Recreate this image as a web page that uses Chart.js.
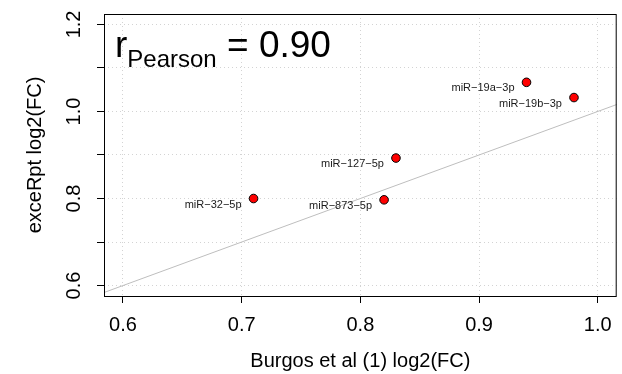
<!DOCTYPE html>
<html>
<head>
<meta charset="utf-8">
<script src="https://cdn.jsdelivr.net/npm/chart.js@4/dist/chart.umd.min.js"></script>
<style>
  html, body { margin: 0; padding: 0; background: #fff; }
  canvas { display: block; }
</style>
</head>
<body>
<canvas id="chart" width="622" height="374"></canvas>
<script>
const mirnas = ["miR−32−5p", "miR−873−5p", "miR−127−5p", "miR−19a−3p", "miR−19b−3p"];
const burgosFC = [0.71, 0.82, 0.83, 0.94, 0.98];
const exceRptFC = [0.800, 0.797, 0.893, 1.067, 1.032];

const xTicks = [0.6, 0.7, 0.8, 0.9, 1.0];
const yTicks = [0.6, 0.7, 0.8, 0.9, 1.0, 1.1, 1.2];
const yLabelTicks = [0.6, 0.8, 1.0, 1.2];
const xLim = [0.584, 1.016];
const yLim = [0.576, 1.224];
const pearson = "0.90";

const FONT = '"Liberation Sans", Arial, Helvetica, sans-serif';

// identity line y = x, clipped to the plot area by the chart
const refLine = [{ x: 0.5, y: 0.5 }, { x: 1.1, y: 1.1 }];

const fixTicks = (vals) => (scale) => {
  scale.ticks = vals.map((v) => ({ value: v }));
};

const rPlot = {
  id: "rPlot",
  afterDatasetsDraw(chart) {
    const { ctx, chartArea: a } = chart;
    ctx.save();
    // point labels
    const meta = chart.getDatasetMeta(1);
    ctx.font = "11px " + FONT;
    ctx.fillStyle = "#1a1a1a";
    ctx.textAlign = "right";
    ctx.textBaseline = "middle";
    meta.data.forEach((pt, i) => {
      ctx.fillText(mirnas[i], pt.x - 12, pt.y + 6);
    });

    // box
    ctx.strokeStyle = "#000";
    ctx.lineWidth = 1;
    ctx.strokeRect(a.left + 0.5, a.top + 0.5, a.right - a.left - 1, a.bottom - a.top);

    // r_Pearson annotation
    ctx.fillStyle = "#000";
    ctx.textAlign = "left";
    ctx.textBaseline = "alphabetic";
    let x = a.left + 11;
    const base = a.top + 43;
    ctx.font = "37px " + FONT;
    ctx.fillText("r", x, base);
    x += ctx.measureText("r").width;
    ctx.font = "24px " + FONT;
    ctx.fillText("Pearson", x, base + 10);
    x += ctx.measureText("Pearson").width;
    ctx.font = "37px " + FONT;
    x += ctx.measureText(" ").width;
    ctx.fillText("= " + pearson, x, base);

    // rotated y tick labels
    const ys = chart.scales.y;
    ctx.font = "20px " + FONT;
    ctx.textAlign = "center";
    ctx.textBaseline = "middle";
    for (const v of yLabelTicks) {
      ctx.save();
      ctx.translate(74, ys.getPixelForValue(v));
      ctx.rotate(-Math.PI / 2);
      ctx.fillText(v.toFixed(1), 0, 0);
      ctx.restore();
    }
    ctx.restore();
  },
};

new Chart(document.getElementById("chart"), {
  type: "scatter",
  data: {
    datasets: [
      {
        type: "line",
        data: refLine,
        borderColor: "#bebebe",
        borderWidth: 1,
        pointRadius: 0,
        fill: false,
      },
      {
        data: mirnas.map((_, i) => ({ x: burgosFC[i], y: exceRptFC[i] })),
        backgroundColor: "#ff0000",
        borderColor: "#000",
        borderWidth: 1,
        pointRadius: 4.3,
      },
    ],
  },
  options: {
    responsive: false,
    animation: false,
    layout: { padding: { top: 14, right: 4, left: 0, bottom: 0 } },
    plugins: { legend: { display: false }, tooltip: { enabled: false } },
    scales: {
      x: {
        type: "linear",
        min: xLim[0],
        max: xLim[1],
        afterBuildTicks: fixTicks(xTicks),
        afterFit: (s) => { s.height = 78; },
        grid: { color: "#d3d3d3", tickColor: "#000", tickLength: 7, lineWidth: 1 },
        border: { display: false, dash: [1, 3] },
        ticks: {
          color: "#000",
          font: { family: FONT, size: 20 },
          padding: 10,
          maxRotation: 0,
          callback: (v) => v.toFixed(1),
        },
        title: {
          display: true,
          text: "Burgos et al (1) log2(FC)",
          color: "#000",
          font: { family: FONT, size: 20 },
          padding: { top: 0, bottom: 1 },
        },
      },
      y: {
        type: "linear",
        min: yLim[0],
        max: yLim[1],
        afterBuildTicks: fixTicks(yTicks),
        afterFit: (s) => { s.width = 104; },
        grid: { color: "#d3d3d3", tickColor: "#000", tickLength: 7, lineWidth: 1 },
        border: { display: false, dash: [1, 3] },
        ticks: { display: false },
        title: {
          display: true,
          text: "exceRpt log2(FC)",
          color: "#000",
          font: { family: FONT, size: 20 },
          padding: { top: 23, bottom: 0 },
        },
      },
    },
  },
  plugins: [rPlot],
});
</script>
</body>
</html>
